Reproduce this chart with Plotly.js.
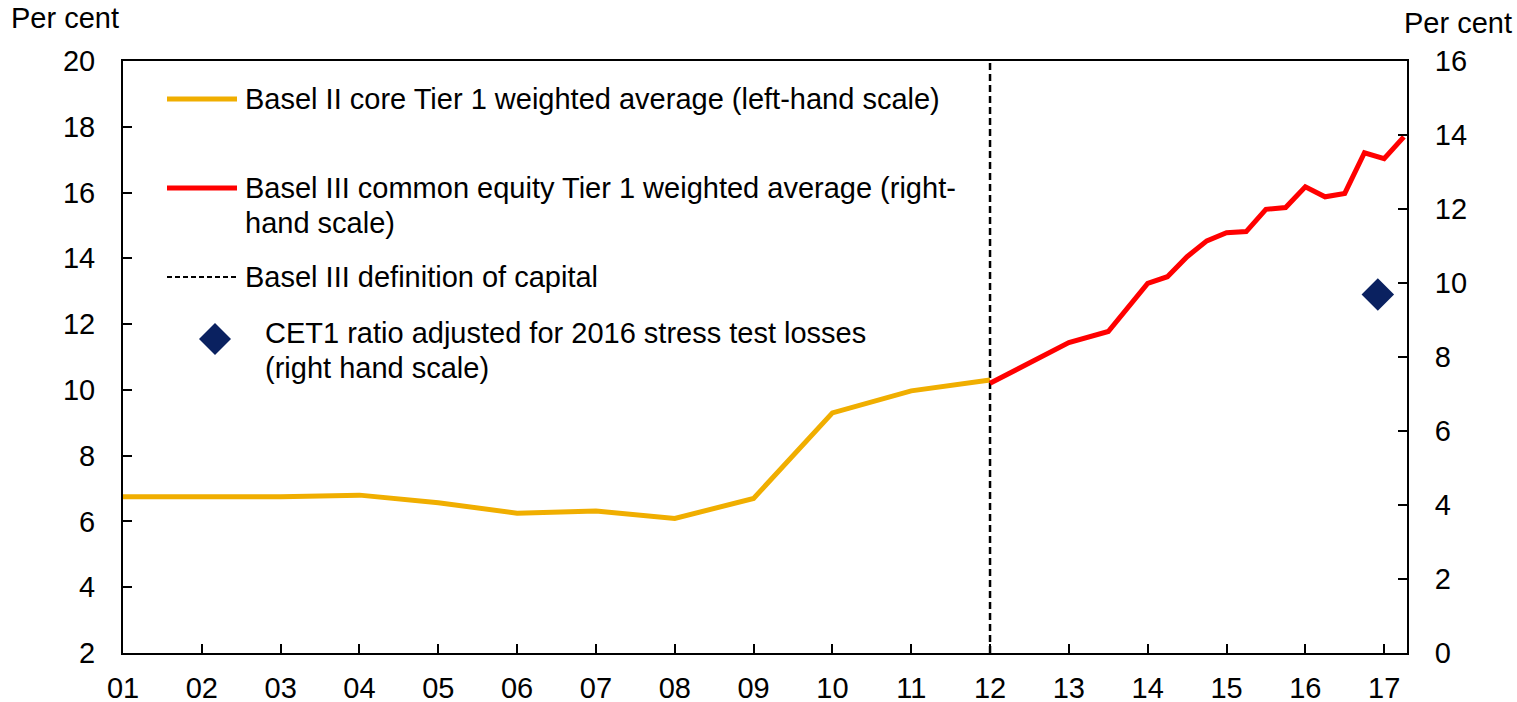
<!DOCTYPE html>
<html>
<head>
<meta charset="utf-8">
<script src="https://cdn.plot.ly/plotly-3.0.1.min.js"></script>
<style>
  html, body { margin: 0; padding: 0; background: #fff; }
  #chart { width: 1517px; height: 702px; }
</style>
</head>
<body>
<div id="chart"></div>
<script>
// ----- data -----
const years = [2001, 2002, 2003, 2004, 2005, 2006, 2007, 2008, 2009, 2010, 2011, 2012, 2013, 2014, 2015, 2016, 2017];
const yearLabels = ["01", "02", "03", "04", "05", "06", "07", "08", "09", "10", "11", "12", "13", "14", "15", "16", "17"];

// Basel II core Tier 1 (left-hand scale), annual
const basel2X = [2001, 2002, 2003, 2004, 2005, 2006, 2007, 2008, 2009, 2010, 2011, 2012];
const basel2Y = [6.75, 6.75, 6.75, 6.8, 6.57, 6.25, 6.32, 6.09, 6.7, 9.3, 9.97, 10.3];

// Basel III CET1 (right-hand scale)
const basel3X = [2012, 2013, 2013.5, 2014, 2014.25, 2014.5, 2014.75, 2015, 2015.25, 2015.5, 2015.75,
                 2016, 2016.25, 2016.5, 2016.75, 2017, 2017.25];
const basel3Y = [7.29, 8.39, 8.69, 9.99, 10.17, 10.71, 11.14, 11.36, 11.39, 11.99, 12.04,
                 12.6, 12.33, 12.42, 13.52, 13.36, 13.95];

// stress-test adjusted CET1 (right-hand scale)
const stressX = [2016.92];
const stressY = [9.69];

const basel3Start = 2012;

// ----- styling -----
const FONT = "Liberation Sans, Arial, sans-serif";
const FS = 29;
const YELLOW = "#F0AE00";
const RED = "#FF0000";
const NAVY = "#0A2160";

// plot area in pixels (for placing the hand-drawn legend)
const L = 123, R = 1407, T = 61, B = 653;
const px = x => (x - L) / (R - L);
const py = y => (B - y) / (B - T);

const traces = [
  {
    type: "scatter", mode: "lines", x: basel2X, y: basel2Y,
    line: { color: YELLOW, width: 5 }, yaxis: "y", hoverinfo: "skip"
  },
  {
    type: "scatter", mode: "lines", x: basel3X, y: basel3Y,
    line: { color: RED, width: 5 }, yaxis: "y2", hoverinfo: "skip"
  },
  {
    type: "scatter", mode: "markers", x: stressX, y: stressY,
    marker: { symbol: "diamond", size: 25, color: NAVY, line: { width: 0 } },
    yaxis: "y2", hoverinfo: "skip"
  }
];

// legend rows: y pixel of symbol, text lines, x pixel of text
const legendRows = [
  { y: 99, lines: ["Basel II core Tier 1 weighted average (left-hand scale)"], tx: 243 },
  { y: 188, lines: ["Basel III common equity Tier 1 weighted average (right-", "hand scale)"], tx: 243 },
  { y: 277, lines: ["Basel III definition of capital"], tx: 243 },
  { y: 333, lines: ["CET1 ratio adjusted for 2016 stress test losses", "(right hand scale)"], tx: 263 }
];
const LINE_GAP = 35;

const annotations = [];
legendRows.forEach(r => {
  r.lines.forEach((t, i) => {
    annotations.push({
      text: t, xref: "paper", yref: "paper",
      x: px(r.tx), y: py(r.y + i * LINE_GAP),
      xanchor: "left", yanchor: "middle", showarrow: false,
      font: { family: FONT, size: FS, color: "#000" }
    });
  });
});
annotations.push(
  { text: "Per cent", xref: "paper", yref: "paper", x: px(9), y: py(18),
    xanchor: "left", yanchor: "middle", showarrow: false,
    font: { family: FONT, size: FS, color: "#000" } },
  { text: "Per cent", xref: "paper", yref: "paper", x: px(1514), y: py(23),
    xanchor: "right", yanchor: "middle", showarrow: false,
    font: { family: FONT, size: FS, color: "#000" } }
);

const dx = 16, dy = 16;
const shapes = [
  // Basel III start
  { type: "line", xref: "x", yref: "paper", x0: basel3Start, x1: basel3Start, y0: 0, y1: 1,
    line: { color: "#000", width: 2.5, dash: "7px,4px" }, layer: "below" },
  // legend symbols
  { type: "line", xref: "paper", yref: "paper", x0: px(167), x1: px(237), y0: py(99), y1: py(99),
    line: { color: YELLOW, width: 5 } },
  { type: "line", xref: "paper", yref: "paper", x0: px(167), x1: px(237), y0: py(188), y1: py(188),
    line: { color: RED, width: 5 } },
  { type: "line", xref: "paper", yref: "paper", x0: px(167), x1: px(237), y0: py(277), y1: py(277),
    line: { color: "#000", width: 2, dash: "5px,3px" } },
  { type: "path", xref: "paper", yref: "paper",
    path: `M ${px(215 - dx)} ${py(339)} L ${px(215)} ${py(339 - dy)} L ${px(215 + dx)} ${py(339)} L ${px(215)} ${py(339 + dy)} Z`,
    fillcolor: NAVY, line: { width: 0 } }
];

const axisCommon = {
  showline: true, linecolor: "#000", linewidth: 2,
  ticks: "inside", ticklen: 9, tickwidth: 2, tickcolor: "#000",
  showgrid: false, zeroline: false, fixedrange: true,
  tickfont: { family: FONT, size: FS, color: "#000" }
};

const layout = {
  width: 1517, height: 702,
  margin: { l: L, r: 1517 - R, t: T, b: 702 - B, pad: 0 },
  paper_bgcolor: "#fff", plot_bgcolor: "#fff",
  showlegend: false,
  font: { family: FONT, size: FS, color: "#000" },
  xaxis: {
    ...axisCommon, range: [2001, 2017.29], tickvals: years, ticktext: yearLabels,
    mirror: true, ticklabelstandoff: 8
  },
  yaxis: {
    ...axisCommon, range: [2, 20], tick0: 0, dtick: 2, ticklabelstandoff: 20
  },
  yaxis2: {
    ...axisCommon, range: [0, 16], tick0: 0, dtick: 2, overlaying: "y", side: "right",
    ticklabelstandoff: 20
  },
  shapes, annotations
};

Plotly.newPlot("chart", traces, layout, { displayModeBar: false, staticPlot: true });
</script>
</body>
</html>
